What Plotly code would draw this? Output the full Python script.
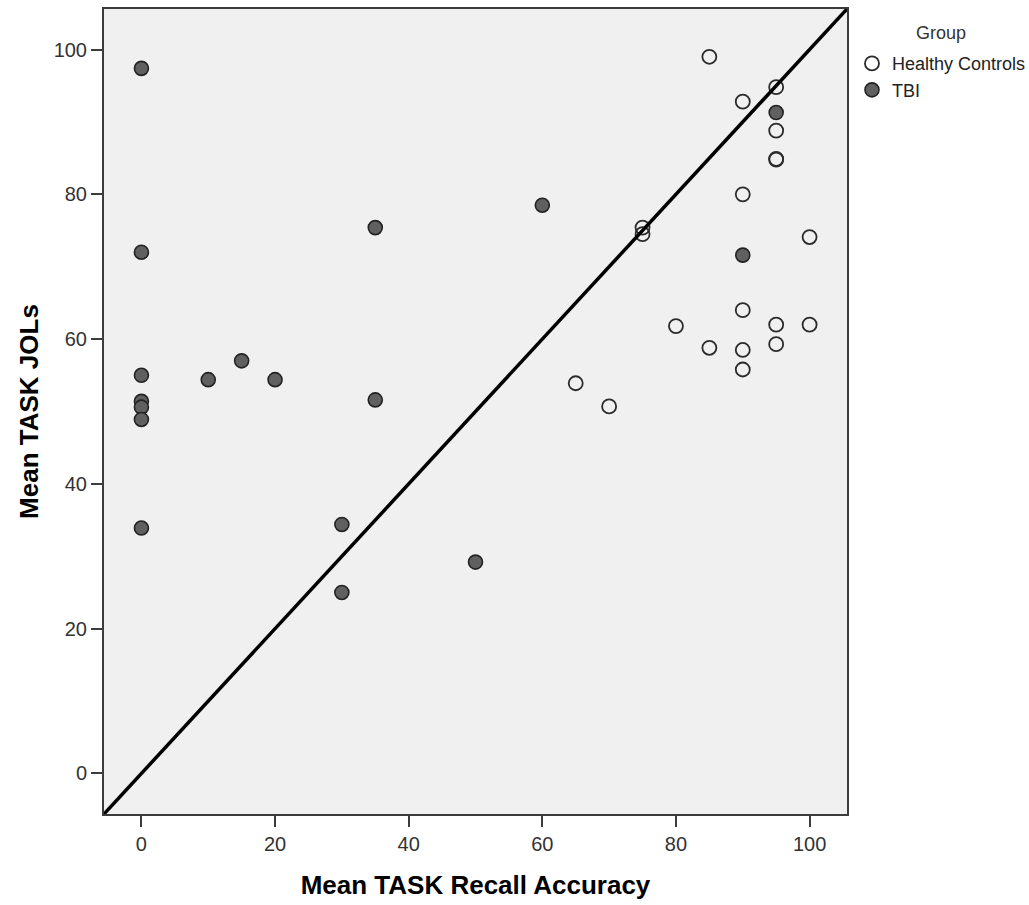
import plotly.graph_objects as go

# Mean recall accuracy (x) and mean judgments of learning (y), per participant
hc_recall = [85, 95, 90, 95, 95, 95, 90, 75, 75, 100, 90, 80, 95, 100, 95, 85, 90, 90, 65, 70]
hc_jols = [99.0, 94.8, 92.8, 88.8, 84.8, 84.9, 80.0, 75.4, 74.5, 74.1, 64.0, 61.8, 62.0, 62.0,
           59.3, 58.8, 58.5, 55.8, 53.9, 50.7]

tbi_recall = [0, 0, 0, 0, 0, 0, 0, 10, 15, 20, 30, 30, 35, 35, 50, 60, 90, 95]
tbi_jols = [97.4, 72.0, 55.0, 51.4, 50.6, 48.9, 33.9, 54.4, 57.0, 54.4, 34.4, 25.0, 75.4, 51.6,
            29.2, 78.5, 71.6, 91.3]

axis_range = [-5.6, 105.6]
x_ticks = [0, 20, 40, 60, 80, 100]
y_ticks = [0, 20, 40, 60, 80, 100]

FONT = "Liberation Sans, Arial, sans-serif"

fig = go.Figure()

fig.add_trace(go.Scatter(
    x=hc_recall, y=hc_jols, mode="markers", name="Healthy Controls",
    marker=dict(size=14, color="rgba(0,0,0,0)", symbol="circle",
                line=dict(color="#2b2b2b", width=1.8)),
))
fig.add_trace(go.Scatter(
    x=tbi_recall, y=tbi_jols, mode="markers", name="TBI",
    marker=dict(size=14, color="#606060", symbol="circle",
                line=dict(color="#222222", width=1.6)),
))

# identity line: perfect calibration
fig.add_shape(type="line", xref="x", yref="y",
              x0=axis_range[0], y0=axis_range[0], x1=axis_range[1], y1=axis_range[1],
              line=dict(color="black", width=3.5), layer="above")

axis_common = dict(
    showgrid=False, zeroline=False, showline=True, linecolor="#3c3c3c", linewidth=2,
    ticks="outside", ticklen=11, tickwidth=2, tickcolor="#3c3c3c",
    tickfont=dict(family=FONT, size=20, color="#333333"),
    mirror=True,
)

fig.update_xaxes(range=axis_range, tickvals=x_ticks,
                 title=dict(text="<b>Mean TASK Recall Accuracy</b>",
                            font=dict(family=FONT, size=26, color="black"), standoff=22),
                 **axis_common)
fig.update_yaxes(range=axis_range, tickvals=y_ticks,
                 title=dict(text="<b>Mean TASK JOLs</b>",
                            font=dict(family=FONT, size=26, color="black"), standoff=8),
                 **axis_common)

# legend heading
fig.add_annotation(text="Group", xref="paper", yref="paper", x=1.1265, y=0.97,
                   xanchor="center", yanchor="middle", showarrow=False,
                   font=dict(family=FONT, size=18, color="#333333"))

fig.update_layout(
    width=1029, height=905,
    margin=dict(l=104, r=182, t=9, b=91, autoexpand=False),
    paper_bgcolor="white", plot_bgcolor="#f0f0f0",
    font=dict(family=FONT, color="#333333"),
    legend=dict(
        x=1.0067, xanchor="left", y=0.955, yanchor="top",
        font=dict(family=FONT, size=18, color="#222222"),
        bgcolor="rgba(0,0,0,0)", borderwidth=0, itemsizing="trace",
        tracegroupgap=0,
    ),
)

fig.write_html("out.html")
